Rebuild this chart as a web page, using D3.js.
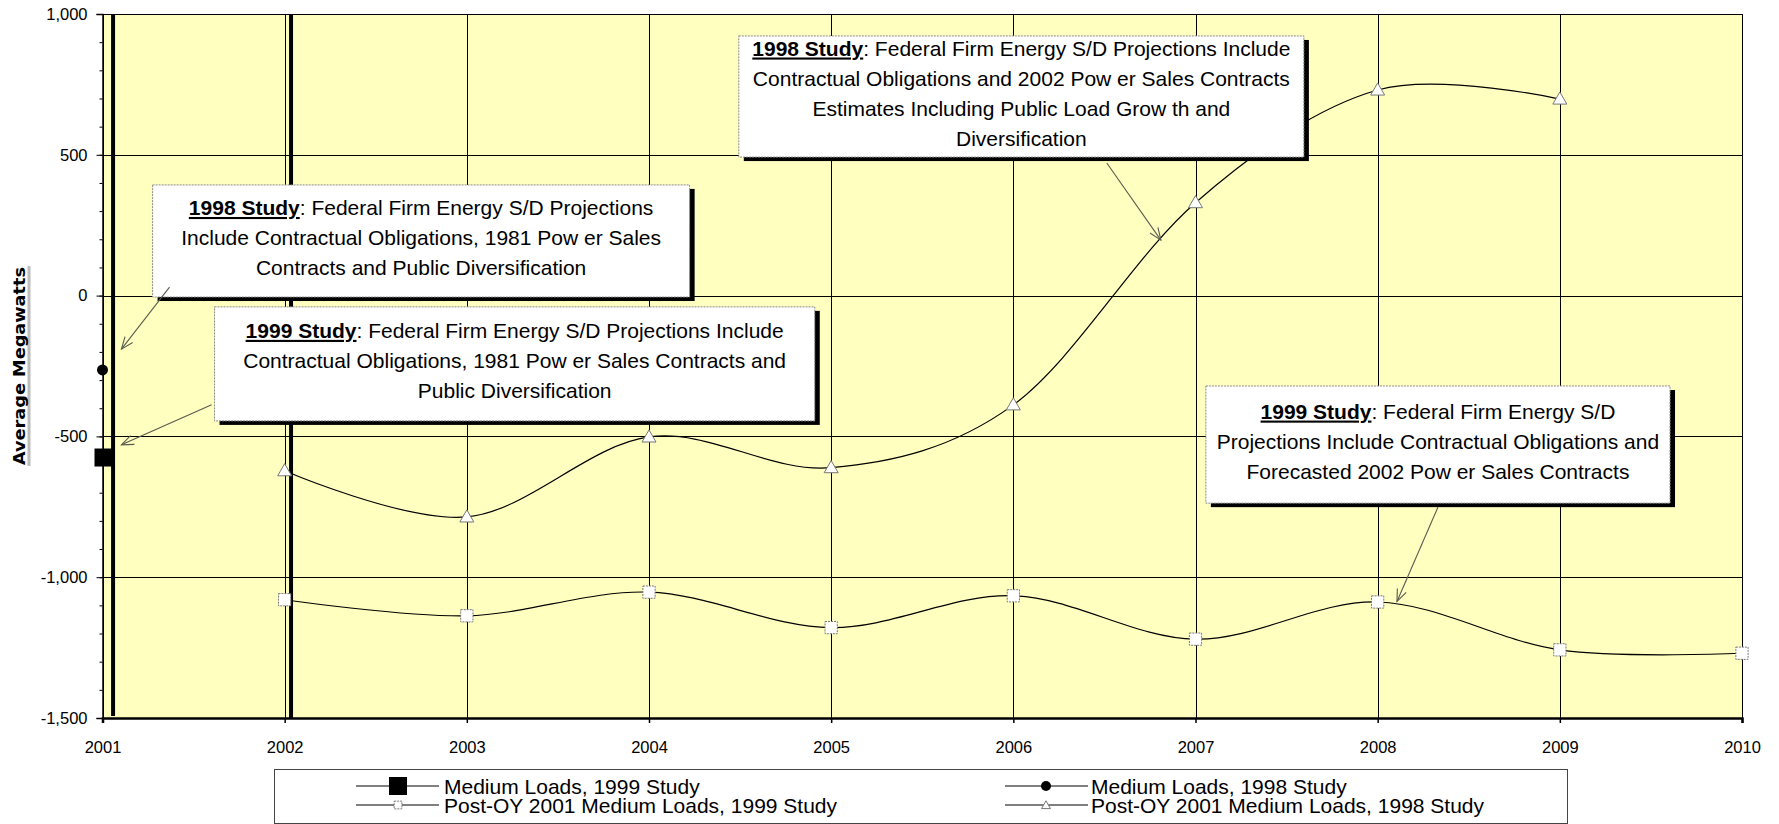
<!DOCTYPE html>
<html>
<head>
<meta charset="utf-8">
<script src="https://cdn.jsdelivr.net/npm/d3@7"></script>
<style>
  body { margin: 0; background: #ffffff; }
  svg { display: block; font-family: "Liberation Sans", Arial, sans-serif; }
</style>
</head>
<body>
<svg id="chart" width="1779" height="824"></svg>
<script>
// ---------------- DATA ----------------
const years = [2001, 2002, 2003, 2004, 2005, 2006, 2007, 2008, 2009, 2010];
const yTickValues = [1000, 500, 0, -500, -1000, -1500];
const yTickLabels = ["1,000", "500", "0", "-500", "-1,000", "-1,500"];
const yMinorTicks = d3.range(-1500, 1001, 100);

const seriesNames = [
  "Medium Loads, 1999 Study",
  "Post-OY 2001 Medium Loads, 1999 Study",
  "Medium Loads, 1998 Study",
  "Post-OY 2001 Medium Loads, 1998 Study"
];

// Medium Loads (single 2001 points)
const medium1999Years = [2001];
const medium1999Values = [-575];
const medium1998Years = [2001];
const medium1998Values = [-264];

// Post-OY 2001 Medium Loads
const postOY1999Years = [2002, 2003, 2004, 2005, 2006, 2007, 2008, 2009, 2010];
const postOY1999Values = [-1080, -1137, -1053, -1179, -1066, -1220, -1088, -1258, -1270];
const postOY1998Years = [2002, 2003, 2004, 2005, 2006, 2007, 2008, 2009];
const postOY1998Values = [-622, -786, -502, -611, -388, 330, 730, 698];

// Heavy vertical divider bars (year position, from value, to value)
const dividerYears = [2001.058, 2002.035];
const dividerFrom = [1000, 1000];
const dividerTo = [-1493, -1500];

// Annotation texts
const noteTitles = ["1998 Study", "1999 Study", "1998 Study", "1999 Study"];
const noteLines = [
  [": Federal Firm Energy S/D Projections",
   "Include Contractual Obligations,  1981 Pow er Sales",
   "Contracts and Public Diversification"],
  [": Federal Firm Energy S/D Projections Include",
   "Contractual Obligations, 1981 Pow er Sales Contracts and",
   "Public Diversification"],
  [": Federal Firm Energy S/D Projections Include",
   "Contractual Obligations and 2002 Pow er Sales Contracts",
   "Estimates Including Public Load Grow th and",
   "Diversification"],
  [": Federal Firm Energy S/D",
   "Projections Include Contractual Obligations and",
   "Forecasted 2002 Pow er Sales Contracts"]
];
// ---------------- LAYOUT ----------------
const W = 1779, H = 824;
const plot = { left: 102.5, right: 1742, top: 14, bottom: 718 };

const svg = d3.select("#chart");
const x = d3.scaleLinear().domain([2001, 2010]).range([plot.left, plot.right]);
const y = d3.scaleLinear().domain([-1500, 1000]).range([plot.bottom, plot.top]);

// Annotation box geometry in data space [x0, x1, yTop, yBottom]
const noteBoxes = [
  [2001.275, 2004.223, 393, -5],
  [2001.615, 2004.910, -40, -445],
  [2004.493, 2007.595, 922, 492],
  [2007.057, 2009.605, -321, -737]
];
// Arrow geometry in data space [xFrom, yFrom, xTo, yTo]
const noteArrows = [
  [2001.368, 30, 2001.104, -190],
  [2001.599, -388, 2001.104, -530],
  [2006.513, 471, 2006.810, 197],
  [2008.331, -751, 2008.106, -1086]
];

// Background
svg.append("rect").attr("width", W).attr("height", H).attr("fill", "#ffffff");
svg.append("rect")
  .attr("x", plot.left).attr("y", plot.top)
  .attr("width", plot.right - plot.left).attr("height", plot.bottom - plot.top)
  .attr("fill", "#FFFFC0");

// Gridlines
const grid = svg.append("g").attr("stroke", "#000").attr("stroke-width", 1);
grid.selectAll("line.h").data(yTickValues).join("line")
  .attr("x1", plot.left).attr("x2", plot.right)
  .attr("y1", d => Math.round(y(d)) + 0.5).attr("y2", d => Math.round(y(d)) + 0.5);
grid.selectAll("line.v").data(years).join("line")
  .attr("y1", plot.top).attr("y2", plot.bottom)
  .attr("x1", d => Math.round(x(d)) + 0.5).attr("x2", d => Math.round(x(d)) + 0.5);

// Y axis
const yAxisG = svg.append("g").attr("transform", `translate(${plot.left},0)`);
yAxisG.call(d3.axisLeft(y).tickValues(yMinorTicks).tickSize(3).tickFormat(""))
  .call(g => g.select(".domain").remove())
  .call(g => g.selectAll("line").attr("stroke", "#000"));
const yAxisMajor = svg.append("g").attr("transform", `translate(${plot.left},0)`);
yAxisMajor.call(d3.axisLeft(y).tickValues(yTickValues).tickSize(6).tickPadding(9)
    .tickFormat((d, i) => yTickLabels[i]))
  .call(g => g.select(".domain").attr("stroke", "#000").attr("stroke-width", 1.5))
  .call(g => g.selectAll("line").attr("stroke", "#000"))
  .call(g => g.selectAll("text").attr("font-size", 16.5)
    .attr("font-family", "'Liberation Sans', Arial, sans-serif").attr("fill", "#000"));

// X axis
const xAxisG = svg.append("g").attr("transform", `translate(0,${plot.bottom})`);
xAxisG.call(d3.axisBottom(x).tickValues(years).tickSize(5).tickPadding(18).tickFormat(d3.format("d")))
  .call(g => g.select(".domain").attr("stroke", "#000").attr("stroke-width", 2.5))
  .call(g => g.selectAll("line").attr("stroke", "#000").attr("stroke-width", 1.5))
  .call(g => g.selectAll("text").attr("font-size", 16.5)
    .attr("font-family", "'Liberation Sans', Arial, sans-serif").attr("fill", "#000"));

// Y axis title
const yTitle = svg.append("g").attr("transform", "translate(19,366) rotate(-90)");
yTitle.append("line").attr("x1", -100).attr("x2", 100).attr("y1", 10).attr("y2", 10)
  .attr("stroke", "#bdbdbd").attr("stroke-width", 3);
yTitle.append("text").attr("text-anchor", "middle").attr("y", 6)
  .attr("font-family", "'DejaVu Sans', Verdana, sans-serif").attr("font-weight", "bold")
  .attr("font-size", 16).attr("textLength", 198).attr("lengthAdjust", "spacingAndGlyphs")
  .attr("fill", "#000").text("Average Megawatts");

// Heavy divider bars
svg.append("g").selectAll("line").data(dividerYears).join("line")
  .attr("x1", d => x(d)).attr("x2", d => x(d))
  .attr("y1", (d, i) => y(dividerFrom[i])).attr("y2", (d, i) => y(dividerTo[i]))
  .attr("stroke", "#000").attr("stroke-width", 4);

// Lines
const line = d3.line().x(d => x(d[0])).y(d => y(d[1])).curve(d3.curveCatmullRom.alpha(0));
const pts1999 = postOY1999Years.map((yr, i) => [yr, postOY1999Values[i]]);
const pts1998 = postOY1998Years.map((yr, i) => [yr, postOY1998Values[i]]);
svg.append("path").attr("d", line(pts1999)).attr("fill", "none").attr("stroke", "#000").attr("stroke-width", 1.2);
svg.append("path").attr("d", line(pts1998)).attr("fill", "none").attr("stroke", "#000").attr("stroke-width", 1.2);

// Markers
const sqSym = d3.symbol().type(d3.symbolSquare);
const triSym = d3.symbol().type(d3.symbolTriangle);
svg.append("g").selectAll("path").data(pts1999).join("path")
  .attr("transform", d => `translate(${x(d[0])},${y(d[1])})`)
  .attr("d", sqSym.size(150)())
  .attr("fill", "#fff").attr("stroke", "#777").attr("stroke-width", 1).attr("stroke-dasharray", "2,1");
svg.append("g").selectAll("path").data(pts1998).join("path")
  .attr("transform", d => `translate(${x(d[0])},${y(d[1]) + 1})`)
  .attr("d", triSym.size(85)())
  .attr("fill", "#fff").attr("stroke", "#777").attr("stroke-width", 1);
svg.append("g").selectAll("path").data(medium1999Years).join("path")
  .attr("transform", (d, i) => `translate(${x(d) + 1},${y(medium1999Values[i])})`)
  .attr("d", sqSym.size(324)()).attr("fill", "#000");
svg.append("g").selectAll("circle").data(medium1998Years).join("circle")
  .attr("cx", d => x(d)).attr("cy", (d, i) => y(medium1998Values[i]))
  .attr("r", 5.5).attr("fill", "#000");

// Annotation boxes
const notes = svg.append("g");
noteBoxes.forEach((b, k) => {
  const x0 = x(b[0]), x1 = x(b[1]), y0 = y(b[2]), y1 = y(b[3]);
  const g = notes.append("g");
  g.append("rect").attr("x", x0 + 5).attr("y", y0 + 4).attr("width", x1 - x0).attr("height", y1 - y0).attr("fill", "#000");
  g.append("rect").attr("x", x0).attr("y", y0).attr("width", x1 - x0).attr("height", y1 - y0)
    .attr("fill", "#fff").attr("stroke", "#8a8a8a").attr("stroke-width", 1).attr("stroke-dasharray", "2,1");
  const cx = (x0 + x1) / 2, cy = (y0 + y1) / 2;
  const n = noteLines[k].length;
  noteLines[k].forEach((txt, i) => {
    const t = g.append("text").attr("x", cx).attr("y", cy + (i - (n - 1) / 2) * 30 + 4)
      .attr("text-anchor", "middle").attr("font-size", 21).attr("fill", "#000");
    if (i === 0) {
      t.append("tspan").attr("font-weight", "bold").attr("text-decoration", "underline").text(noteTitles[k]);
      t.append("tspan").text(txt);
    } else {
      t.text(txt);
    }
  });
});

// Arrows
const arrows = svg.append("g").attr("stroke", "#5a5a50").attr("stroke-width", 1.1).attr("fill", "none");
noteArrows.forEach(a => {
  const xa = x(a[0]), ya = y(a[1]), xb = x(a[2]), yb = y(a[3]);
  const ang = Math.atan2(yb - ya, xb - xa), L = 13, th = 0.38;
  arrows.append("line").attr("x1", xa).attr("y1", ya).attr("x2", xb).attr("y2", yb);
  arrows.append("path").attr("d",
    `M${xb - L * Math.cos(ang - th)},${yb - L * Math.sin(ang - th)}L${xb},${yb}L${xb - L * Math.cos(ang + th)},${yb - L * Math.sin(ang + th)}`);
});

// Legend
const legend = svg.append("g");
legend.append("rect").attr("x", 274.5).attr("y", 769.5).attr("width", 1293).attr("height", 54)
  .attr("fill", "#fff").attr("stroke", "#444").attr("stroke-width", 1);
const legendCols = [356, 1005];
const legendRows = [786, 805];
const legendItems = seriesNames.map((name, i) => ({ name, col: i < 2 ? 0 : 1, row: i % 2, idx: i }));
const li = legend.selectAll("g.item").data(legendItems).join("g")
  .attr("transform", d => `translate(${legendCols[d.col]},${legendRows[d.row]})`);
li.append("line").attr("x1", 0).attr("x2", 83).attr("y1", 0).attr("y2", 0).attr("stroke", "#000").attr("stroke-width", 1);
li.each(function(d) {
  const g = d3.select(this);
  const cx = d.col === 0 ? 42 : 41;
  if (d.idx === 0) g.append("path").attr("transform", `translate(${cx},0)`).attr("d", sqSym.size(324)()).attr("fill", "#000");
  if (d.idx === 1) g.append("path").attr("transform", `translate(${cx},0)`).attr("d", sqSym.size(60)())
    .attr("fill", "#fff").attr("stroke", "#777").attr("stroke-dasharray", "2,1");
  if (d.idx === 2) g.append("circle").attr("cx", cx).attr("r", 5).attr("fill", "#000");
  if (d.idx === 3) g.append("path").attr("transform", `translate(${cx},1)`).attr("d", triSym.size(35)())
    .attr("fill", "#fff").attr("stroke", "#777");
});
li.append("text").attr("x", d => d.col === 0 ? 88 : 86).attr("y", 7.5)
  .attr("font-size", 21).attr("fill", "#000").text(d => d.name);
</script>
</body>
</html>
